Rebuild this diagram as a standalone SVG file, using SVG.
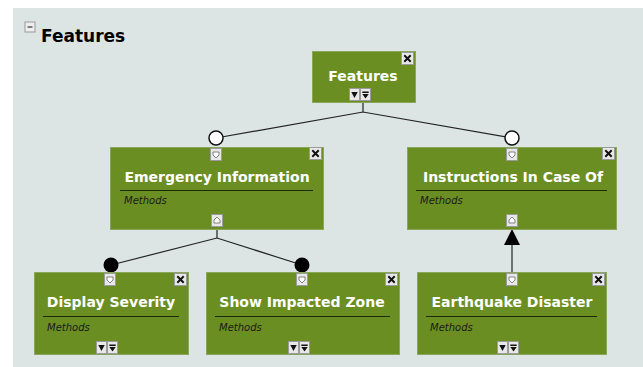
<svg xmlns="http://www.w3.org/2000/svg" width="643" height="367" viewBox="0 0 643 367">
<defs>
<style>
.bg{fill:#dde4e4}
.node{fill:#6b8e23;stroke:#8aa65a;stroke-width:1}
.title{font-family:"DejaVu Sans",sans-serif;font-weight:bold;font-size:14px;fill:#fff;text-anchor:middle}
.meth{font-family:"DejaVu Sans",sans-serif;font-style:italic;font-size:10px;fill:#1a1a1a}
.sep{stroke:#1c2a08;stroke-width:1.2}
.btn{fill:#e8e8e8;stroke:#9a9a9a;stroke-width:1}
.ic{fill:#111}
.icw{fill:#fff;stroke:#666;stroke-width:0.8}
.x{stroke:#111;stroke-width:2;stroke-linecap:butt}
.conn{stroke:#222;stroke-width:1.2;fill:none}
.hdr{font-family:"DejaVu Sans",sans-serif;font-weight:bold;font-size:17px;fill:#000}
</style>
<g id="closeBtn">
<rect class="btn" x="0" y="0" width="12" height="12"/>
<path class="x" d="M2.8 2.8L9.2 9.2M9.2 2.8L2.8 9.2"/>
</g>
<g id="downBtn">
<rect class="btn" x="0" y="0" width="11" height="12"/>
<path class="icw" d="M2.5 3.5H8.5V6.5L5.5 9.5L2.5 6.5Z"/>
</g>
<g id="upBtn">
<rect class="btn" x="0" y="0" width="11" height="12"/>
<path class="icw" d="M2.5 8.5H8.5V5.5L5.5 2.5L2.5 5.5Z"/>
</g>
<g id="expBtns">
<rect class="btn" x="0" y="0" width="10" height="12"/>
<path class="ic" d="M1.8 3.5H8.2L5 9.5Z"/>
<rect class="btn" x="11" y="0" width="10" height="12"/>
<path class="ic" d="M12.8 3H19.2V4.6H12.8ZM12.8 5.4H19.2L16 10Z"/>
</g>
</defs>
<rect class="bg" x="13" y="8" width="630" height="359"/>
<g id="header">
<rect x="25" y="22" width="10" height="10" fill="#eee" stroke="#999"/>
<path d="M27.5 27H32.5" stroke="#333" stroke-width="1.2"/>
<text class="hdr" x="41" y="42">Features</text>
</g>
<g id="connectors">
<path class="conn" d="M363 102V112M216 138L363 112L512 138"/>
<circle cx="216" cy="138" r="7" fill="#fff" stroke="#111" stroke-width="1.5"/>
<circle cx="512" cy="138" r="7" fill="#fff" stroke="#111" stroke-width="1.5"/>
<path class="conn" d="M217 229V238M111 265L217 238L302 265"/>
<circle cx="111" cy="265" r="7.5" fill="#000"/>
<circle cx="302" cy="265" r="7.5" fill="#000"/>
<path class="conn" d="M512 272V244"/>
<path d="M512 229L520 245H504Z" fill="#000"/>
</g>
<g id="features">
<rect class="node" x="312.5" y="51.5" width="103" height="51"/>
<text class="title" x="363" y="81">Features</text>
<use href="#closeBtn" x="401.5" y="52.5"/>
<use href="#expBtns" x="349.5" y="88.5"/>
</g>
<g id="emergency">
<rect class="node" x="110.5" y="147.5" width="213" height="82"/>
<use href="#downBtn" x="210.5" y="148.5"/>
<use href="#closeBtn" x="309.5" y="147.5"/>
<text class="title" x="217" y="182">Emergency Information</text>
<path class="sep" d="M120 190.5H313"/>
<text class="meth" x="124" y="204">Methods</text>
<use href="#upBtn" x="211.5" y="214.5"/>
</g>
<g id="instructions">
<rect class="node" x="407.5" y="147.5" width="209" height="82"/>
<use href="#downBtn" x="506.5" y="148.5"/>
<use href="#closeBtn" x="602.5" y="147.5"/>
<text class="title" x="513" y="182">Instructions In Case Of</text>
<path class="sep" d="M416 190.5H607"/>
<text class="meth" x="420" y="204">Methods</text>
<use href="#upBtn" x="506.5" y="214.5"/>
</g>
<g id="display">
<rect class="node" x="34.5" y="272.5" width="154" height="82"/>
<use href="#downBtn" x="104.5" y="273.5"/>
<use href="#closeBtn" x="174.5" y="273.5"/>
<text class="title" x="111" y="307">Display Severity</text>
<path class="sep" d="M43 316.5H179"/>
<text class="meth" x="47" y="331">Methods</text>
<use href="#expBtns" x="96.5" y="341.5"/>
</g>
<g id="impacted">
<rect class="node" x="206.5" y="272.5" width="193" height="82"/>
<use href="#downBtn" x="296.5" y="273.5"/>
<use href="#closeBtn" x="385.5" y="273.5"/>
<text class="title" x="302" y="307">Show Impacted Zone</text>
<path class="sep" d="M215 316.5H390"/>
<text class="meth" x="219" y="331">Methods</text>
<use href="#expBtns" x="288.5" y="341.5"/>
</g>
<g id="earthquake">
<rect class="node" x="417.5" y="272.5" width="189" height="82"/>
<use href="#downBtn" x="506.5" y="273.5"/>
<use href="#closeBtn" x="592.5" y="273.5"/>
<text class="title" x="512" y="307">Earthquake Disaster</text>
<path class="sep" d="M426 316.5H597"/>
<text class="meth" x="430" y="331">Methods</text>
<use href="#expBtns" x="497.5" y="341.5"/>
</g>
</svg>
